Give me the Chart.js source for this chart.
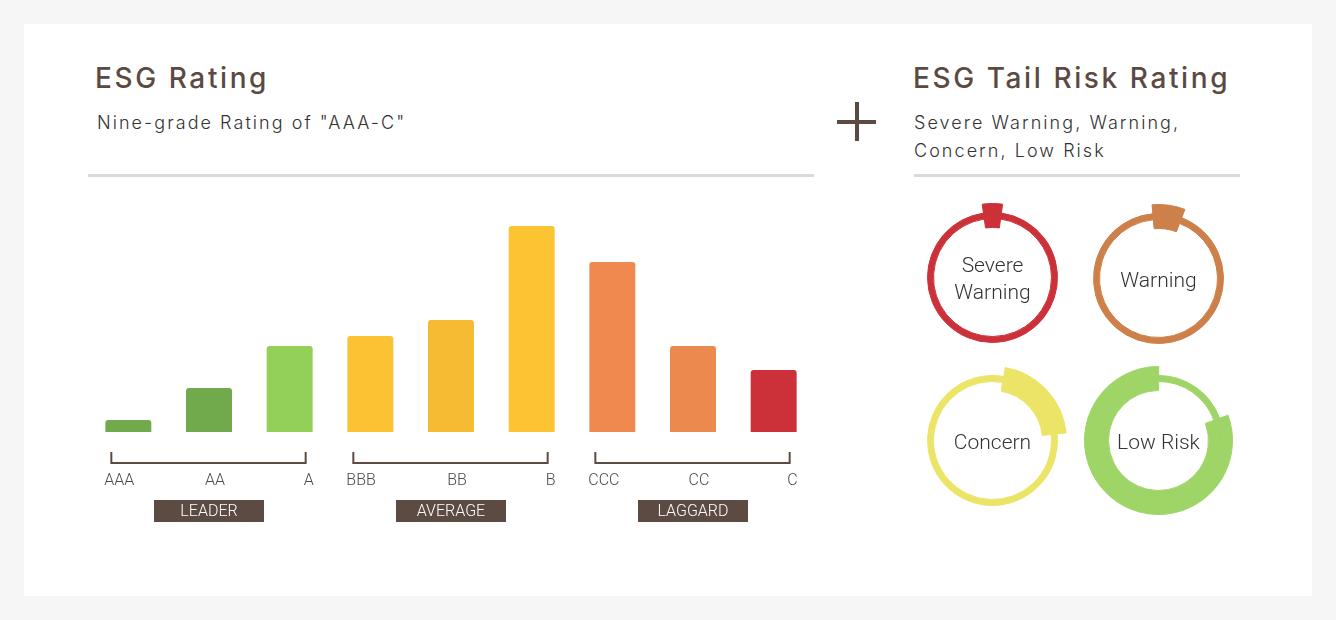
<!DOCTYPE html>
<html>
<head>
<meta charset="utf-8">
<script src="https://cdn.jsdelivr.net/npm/chart.js@4"></script>
<style>
html,body{margin:0;padding:0;}
body{width:1336px;height:620px;background:#f5f6f5;position:relative;overflow:hidden;font-family:Roboto,sans-serif;}
#card{position:absolute;left:24px;top:24px;width:1288px;height:572px;background:#fff;}
.title{position:absolute;font-family:Inter,Roboto,sans-serif;font-weight:500;font-size:28px;line-height:28px;color:#5b4a42;letter-spacing:2.6px;white-space:nowrap;}
.sub{position:absolute;font-family:Inter,Roboto,sans-serif;font-weight:300;font-size:18px;line-height:28.5px;color:#333;letter-spacing:2.05px;white-space:nowrap;}
.rule{position:absolute;height:3px;background:#dadada;}
.plus{position:absolute;background:#5b4a42;}
canvas{position:absolute;}
</style>
</head>
<body>
<div id="card"></div>
<div class="title" style="left:95px;top:64px;">ESG Rating</div>
<div class="sub" style="left:97px;top:109px;">Nine-grade Rating of "AAA-C"</div>
<div class="rule" style="left:88px;top:174px;width:726px;"></div>

<div class="plus" style="left:837px;top:120px;width:39px;height:4px;"></div>
<div class="plus" style="left:855px;top:102px;width:4px;height:39px;"></div>

<div class="title" style="left:913px;top:64px;">ESG Tail Risk Rating</div>
<div class="sub" style="left:914px;top:108.5px;">Severe Warning, Warning,<br>Concern, Low Risk</div>
<div class="rule" style="left:914px;top:174px;width:326px;"></div>

<canvas id="bars" width="726" height="340" style="left:88px;top:200px;"></canvas>
<canvas id="r0" width="149" height="149" style="left:917.5px;top:202.5px;"></canvas>
<canvas id="r1" width="149" height="149" style="left:1083.5px;top:203.5px;"></canvas>
<canvas id="r2" width="149" height="149" style="left:917.5px;top:365.5px;"></canvas>
<canvas id="r3" width="149" height="149" style="left:1083.5px;top:365.5px;"></canvas>

<script>
// ---- ESG rating data ----
const categories = ['AAA', 'AA', 'A', 'BBB', 'BB', 'B', 'CCC', 'CC', 'C'];
const ratingValues = [6, 22, 43, 48, 56, 103, 85, 43, 31];
const barColors = ['#70aa4c', '#70aa4c', '#93d058', '#fbc334', '#f5bb32', '#fcc432', '#ef8950', '#ec894f', '#cc3139'];
const groupNames = ['LEADER', 'AVERAGE', 'LAGGARD'];
const groupSize = 3;

// ---- Tail risk data ----
const riskLabels = ['Severe Warning', 'Warning', 'Concern', 'Low Risk'];
const riskLabelLines = [['Severe', 'Warning'], ['Warning'], ['Concern'], ['Low Risk']];
const riskShare = [4.4, 7.2, 20.6, 80.6];     // percent of the ring highlighted
const riskStartDeg = [-8, -5, 10, 70];        // where the highlighted arc starts
const riskColors = ['#cc3139', '#cd804a', '#ebe467', '#9fd566'];

const groupPlugin = {
  id: 'groups',
  afterDatasetsDraw(chart) {
    const ctx = chart.ctx, x = chart.scales.x;
    const base = chart.chartArea.bottom;
    ctx.save();
    groupNames.forEach((name, g) => {
      const i0 = g * groupSize, i1 = i0 + 1, i2 = i0 + groupSize - 1;
      const left = x.getPixelForValue(i0) - 17;
      const right = x.getPixelForValue(i2) + 16;
      const mid = x.getPixelForValue(i1);
      ctx.strokeStyle = '#5b4b42';
      ctx.lineWidth = 2;
      ctx.beginPath();
      ctx.moveTo(left, base + 20);
      ctx.lineTo(left, base + 31);
      ctx.lineTo(right, base + 31);
      ctx.lineTo(right, base + 20);
      ctx.stroke();
      ctx.font = '300 16px Roboto';
      ctx.fillStyle = '#4a4a4a';
      ctx.textBaseline = 'alphabetic';
      ctx.textAlign = 'left';
      ctx.fillText(categories[i0], left - 7, base + 53);
      ctx.textAlign = 'center';
      ctx.fillText(categories[i1], mid + 6, base + 53);
      ctx.textAlign = 'right';
      ctx.fillText(categories[i2], right + 8, base + 53);
      ctx.fillStyle = '#5b4b42';
      ctx.fillRect(mid - 55, base + 68, 110, 22);
      ctx.fillStyle = '#ffffff';
      ctx.textAlign = 'center';
      ctx.fillText(name, mid, base + 84);
    });
    ctx.restore();
  }
};

new Chart(document.getElementById('bars'), {
  type: 'bar',
  data: {
    labels: categories,
    datasets: [{
      data: ratingValues,
      backgroundColor: barColors,
      borderWidth: 0,
      borderRadius: {topLeft: 3, topRight: 3, bottomLeft: 0, bottomRight: 0},
      borderSkipped: 'start',
      barPercentage: 0.57,
      categoryPercentage: 1
    }]
  },
  options: {
    responsive: false,
    animation: false,
    events: [],
    layout: {padding: {top: 12, bottom: 108, left: 0, right: 0}},
    scales: {
      x: {display: false, offset: true},
      y: {display: false, min: 0, max: 110}
    },
    plugins: {legend: {display: false}, tooltip: {enabled: false}}
  },
  plugins: [groupPlugin]
});

const centerLabel = {
  id: 'centerLabel',
  afterDraw(chart, args, opts) {
    const ctx = chart.ctx;
    const arc = chart.getDatasetMeta(0).data[0];
    const cx = arc.x, cy = arc.y;
    const lines = opts.lines || [];
    ctx.save();
    ctx.font = '300 21px Roboto';
    ctx.fillStyle = '#333333';
    ctx.textAlign = 'center';
    ctx.textBaseline = 'alphabetic';
    lines.forEach((t, i) => {
      ctx.fillText(t, cx, cy + 8 + (i - (lines.length - 1) / 2) * 27);
    });
    ctx.restore();
  }
};

const clear = 'rgba(0,0,0,0)';
riskLabels.forEach((label, r) => {
  const col = riskColors[r];
  const vals = [riskShare[r], 100 - riskShare[r]];
  const ring = (rest, w) => ({
    data: vals,
    backgroundColor: [col, rest],
    borderColor: [col, rest],
    borderWidth: 1,
    borderAlign: 'center',
    weight: w
  });
  new Chart(document.getElementById('r' + r), {
    type: 'doughnut',
    data: {
      labels: [label, ''],
      datasets: [ring(clear, 9), ring(col, 6), ring(clear, 9)]
    },
    options: {
      responsive: false,
      animation: false,
      events: [],
      rotation: riskStartDeg[r],
      cutout: '67.57%',
      layout: {padding: 0},
      plugins: {
        legend: {display: false},
        tooltip: {enabled: false},
        centerLabel: {lines: riskLabelLines[r]}
      }
    },
    plugins: [centerLabel]
  });
});
</script>
</body>
</html>
